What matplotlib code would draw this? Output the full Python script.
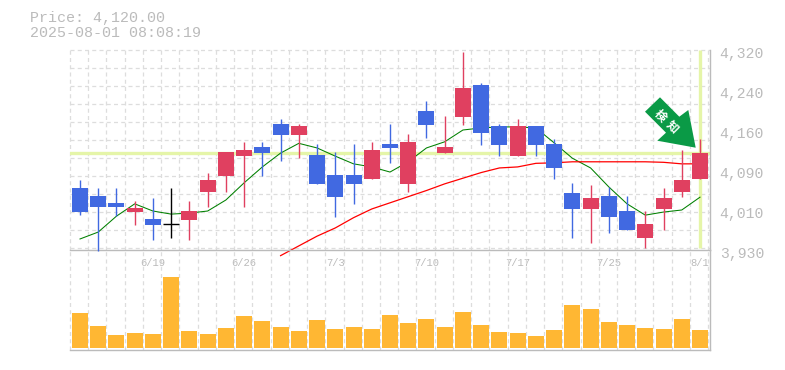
import numpy as np
import matplotlib
matplotlib.use("Agg")
import matplotlib.pyplot as plt
from matplotlib.patches import Polygon
from matplotlib.transforms import ScaledTranslation

# ---- data ----
opens  = [4051,4035,4022,4004,3990.5,3980,3988.5,4043,4074,4113,4131,4176,4154,4115,4076,4076,4068,4137,4059,4201,4119,4189,4252,4172,4113,4172,4137,4041,4010,4035,4006,3953,4010,4043,4068]
highs  = [4066.5,4051,4051,4026,4031,4051,4026,4080,4121,4141,4141,4185,4176,4137,4121,4137,4141,4176,4156,4220,4191,4316,4256,4176,4185,4172,4146,4061,4057,4053,4035,4006,4051,4125,4146]
lows   = [3998,3929,3996,3979,3949,3953,3949,4014,4043,4014,4074,4104,4109,4059,3994,4020,4068,4100,4043,4148,4119,4174,4135,4113,4113,4113,4068,3953,3944,3963,3969,3934,3969,4033,4068]
closes = [4004,4014,4014,4012,3979,3980,4006,4066.5,4121,4125,4119,4154,4172,4059,4033,4059,4125,4129,4141,4174,4131,4246,4158,4135,4172,4135,4090,4010,4031,3994,3969,3981,4031,4066.5,4120]
ma_short = [3951.5,3965,3996,4020,4006,4000,4002,4006,4027.5,4061,4092,4119,4138,4129,4113,4098,4092,4082,4102,4129,4141,4164,4168,4170,4170,4168,4139,4109,4090,4053,4020,3998,4004,4008,4033]
ma_long = [3919,3938,3957,3973,3993,4010,4022,4034,4046,4059,4070,4081,4090,4092,4099,4100,4102,4102,4102,4102,4102,4101,4098,4098]
volumes = [34.7,21.7,12.7,14.7,13.7,70.7,16.7,13.7,19.7,31.7,26.7,20.7,16.7,27.7,18.7,20.7,18.7,32.7,24.7,28.7,20.7,35.7,22.7,15.7,14.7,11.7,17.7,42.7,38.7,25.7,22.7,19.7,18.7,28.7,17.7]
current_price = 4120
date_positions = [4,9,14,19,24,29,34]
date_labels = ["6/19","6/26","7/3","7/10","7/17","7/25","8/1"]
price_ticks = [4320,4242,4164,4086,4008,3930]
price_labels = ["4,320","4,240","4,160","4,090","4,010","3,930"]
title_lines = ["Price: 4,120.00","2025-08-01 08:08:19"]

BLUE, RED, BLACK = "#4169E1", "#E04060", "#000000"
GRID, AXIS, TXT = "#DDDDDD", "#BBBBBB", "#BBBBBB"
HL, VOL, ARROW = "#E5F5A8", "#FFB733", "#0A9A46"
MONO = "Liberation Mono"
W, H = 785, 370

fig = plt.figure(figsize=(W/100, H/100), dpi=100, facecolor="white")
def box(l, t, r, b):
    return [l/W, 1-b/H, (r-l)/W, (b-t)/H]
ax = fig.add_axes(box(70, 50, 710, 250))
av = fig.add_axes(box(70, 250, 710, 350), sharex=ax)
x = np.arange(len(opens))
dash = (0, (3.2, 2.6))
for a in (ax, av):
    a.set_facecolor("none")
    for s in a.spines.values():
        s.set_visible(False)
    a.spines["right"].set_visible(True)
    a.spines["bottom"].set_visible(True)
    a.spines["right"].set_color(AXIS)
    a.spines["bottom"].set_color(AXIS)
    a.spines["right"].set_linewidth(1.0)
    a.spines["bottom"].set_linewidth(1.0)
    for k in range(36):
        a.axvline(k-0.55, color=GRID, lw=0.9, ls=dash, zorder=0, clip_on=False)
ax.set_xlim(-10/18.235, 34+10/18.235)
ax.set_ylim(3930, 4320)
av.set_ylim(-2, 98)
for k in range(12):
    ax.axhline(4320-35.1*k, color=GRID, lw=0.9, ls=dash, zorder=0, clip_on=False)

ax.axhline(current_price, color=HL, lw=2.4, zorder=1)
ax.plot([34, 34], [3934, 4320], color=HL, lw=2.4, zorder=1, solid_capstyle="butt")

ax.plot(x, ma_short, color="#008000", lw=0.75, zorder=2)
ax.plot(x[11:], ma_long, color="#FF0000", lw=0.9, zorder=2, clip_on=False)

width = 16/18.235
for i, (o, h, l, c) in enumerate(zip(opens, highs, lows, closes)):
    col = BLACK if o == c else (RED if c > o else BLUE)
    ax.vlines(i, l, h, color=col, lw=1.0, zorder=3, clip_on=False)
    if o == c:
        ax.hlines(o, i-width/2, i+width/2, color=col, lw=1.0, zorder=3)
    else:
        ax.bar(i, abs(c-o), bottom=min(o, c), width=width, color=col, zorder=4, lw=0)

av.bar(x, volumes, width=width, color=VOL, lw=0, zorder=3)

# ticks
ax.yaxis.tick_right()
ax.set_yticks(price_ticks)
ax.set_yticklabels(price_labels, fontfamily=MONO, fontsize=10.6, color=TXT)
ax.tick_params(axis="y", length=0, pad=7)
shift = ScaledTranslation(0, -2.2/100, fig.dpi_scale_trans)
for t in ax.get_yticklabels():
    t.set_transform(t.get_transform()+shift)
ax.set_xticks(date_positions)
ax.set_xticklabels(date_labels, fontfamily=MONO, fontsize=7.6, color=TXT)
ax.tick_params(axis="x", length=0, pad=6, labelbottom=True)
av.tick_params(axis="both", length=0, labelbottom=False, labelleft=False)
av.set_yticks([])

# title
fig.text(29.5/W, 1-18/H, title_lines[0], family=MONO, fontsize=10.8, color=TXT, va="center")
fig.text(29.5/W, 1-33/H, title_lines[1], family=MONO, fontsize=10.8, color=TXT, va="center")

# signal arrow
shape = [(660,97.3),(679.3,116.7),(688.3,110),(695.7,147.7),(657.3,140.7),(666,132.7),(645,111.7)]
fig.add_artist(Polygon([(px/W, 1-py/H) for px, py in shape], closed=True, transform=fig.transFigure,
                       facecolor=ARROW, edgecolor="none", zorder=10))
for ch, (px, py) in zip("検知", [(660.5,115.5),(672.5,127)]):
    fig.text(px/W, 1-py/H, ch, family=["Noto Sans CJK JP","DejaVu Sans"], fontsize=8.5, weight="bold",
             color="white", rotation=-45, ha="center", va="center", rotation_mode="anchor", zorder=11)

fig.savefig("out.png", dpi=100, facecolor="white")
